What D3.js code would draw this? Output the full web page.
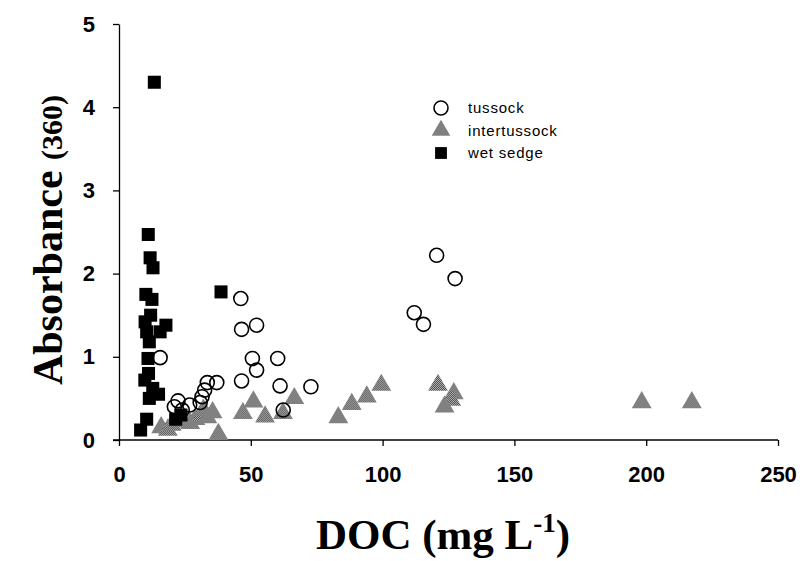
<!DOCTYPE html>
<html>
<head>
<meta charset="utf-8">
<script src="https://cdn.jsdelivr.net/npm/d3@7"></script>
<style>
  body { margin: 0; background: #fff; }
  svg { display: block; }
</style>
</head>
<body>
<div id="chart"></div>
<script>
// DOC (mg/L) vs Absorbance (360)
const tussockDOC = [15.6, 46.2, 46.5, 52.2, 50.6, 60.2, 52.2, 46.5, 61.1, 72.8, 62.3, 33.5, 37.1, 32.5, 31.5, 30.8, 26.8, 22.4, 21.0, 24.0, 120.5, 127.5, 112.0, 115.5];
const tussockAbs = [0.99, 1.70, 1.33, 1.38, 0.98, 0.98, 0.84, 0.71, 0.65, 0.64, 0.36, 0.69, 0.69, 0.60, 0.52, 0.45, 0.42, 0.47, 0.40, 0.36, 2.22, 1.94, 1.53, 1.39];

const interDOC = [16.0, 18.5, 20.0, 23.5, 27.0, 29.0, 31.5, 32.0, 33.5, 35.5, 37.7, 47.0, 51.0, 55.4, 62.2, 66.5, 83.2, 88.3, 94.0, 99.5, 121.0, 127.0, 126.0, 123.5, 198.3, 217.3];
const interAbs = [0.15, 0.12, 0.18, 0.22, 0.20, 0.25, 0.30, 0.36, 0.27, 0.33, 0.07, 0.32, 0.46, 0.28, 0.32, 0.50, 0.27, 0.43, 0.52, 0.66, 0.66, 0.56, 0.48, 0.40, 0.45, 0.45];

const sedgeDOC = [13.4, 11.1, 11.8, 12.9, 10.2, 12.5, 38.7, 17.8, 15.6, 9.9, 10.5, 12.0, 11.5, 11.0, 9.8, 11.2, 12.8, 15.0, 11.5, 10.5, 8.2, 23.5, 21.5];
const sedgeAbs = [4.30, 2.47, 2.19, 2.07, 1.75, 1.69, 1.78, 1.38, 1.30, 1.42, 1.30, 1.50, 1.18, 0.98, 0.72, 0.80, 0.62, 0.55, 0.50, 0.25, 0.12, 0.30, 0.25];

const xTicks = [0, 50, 100, 150, 200, 250];
const yTicks = [0, 1, 2, 3, 4, 5];
const legendLabels = ["tussock", "intertussock", "wet sedge"];

const width = 803, height = 561;
const margin = {top: 24, right: 25, bottom: 121, left: 119};

const svg = d3.select("#chart").append("svg")
    .attr("width", width)
    .attr("height", height);

// dithered grey like the scanned original
const pat = svg.append("defs").append("pattern")
    .attr("id", "dither")
    .attr("patternUnits", "userSpaceOnUse")
    .attr("width", 2)
    .attr("height", 2);
pat.append("rect").attr("width", 2).attr("height", 2).attr("fill", "#bdbdbd");
pat.append("rect").attr("width", 1).attr("height", 1).attr("fill", "#444");
pat.append("rect").attr("x", 1).attr("y", 1).attr("width", 1).attr("height", 1).attr("fill", "#444");

const x = d3.scaleLinear().domain([0, 250]).range([margin.left, width - margin.right]);
const y = d3.scaleLinear().domain([0, 5]).range([height - margin.bottom, margin.top]);

const tickFont = "'Liberation Sans', Arial, sans-serif";
const titleFont = "'Liberation Serif', 'Times New Roman', serif";

// axes
svg.append("g")
    .attr("transform", `translate(0,${y(0)})`)
    .call(d3.axisBottom(x).tickValues(xTicks).tickFormat(d3.format("d")).tickSize(6).tickSizeOuter(0).tickPadding(20))
    .call(g => g.select(".domain").attr("d", `M${x(0) - 6},0H${x(250)}`).attr("stroke-width", 1.3))
    .call(g => g.selectAll(".tick line").attr("stroke-width", 1.3))
    .call(g => g.selectAll(".tick text")
      .attr("font-family", tickFont)
      .attr("font-weight", "bold")
      .attr("font-size", 22)
      .attr("fill", "#000"));

svg.append("g")
    .attr("transform", `translate(${x(0)},0)`)
    .call(d3.axisLeft(y).tickValues(yTicks).tickFormat(d3.format("d")).tickSize(6).tickSizeOuter(0).tickPadding(18))
    .call(g => g.select(".domain").attr("stroke-width", 1.3))
    .call(g => g.selectAll(".tick line").attr("stroke-width", 1.3))
    .call(g => g.selectAll(".tick text")
      .attr("font-family", tickFont)
      .attr("font-weight", "bold")
      .attr("font-size", 22)
      .attr("fill", "#000"));

// axis titles
const xt = svg.append("text")
    .attr("x", 443)
    .attr("y", 549)
    .attr("text-anchor", "middle")
    .attr("font-family", titleFont)
    .attr("font-weight", "bold")
    .attr("font-size", 43);
xt.append("tspan").text("DOC (mg L");
xt.append("tspan").attr("font-size", 27).attr("dy", -17).text("-1");
xt.append("tspan").attr("dy", 17).text(")");

const yt = svg.append("text")
    .attr("transform", `translate(62,240) rotate(-90)`)
    .attr("text-anchor", "middle")
    .attr("font-family", titleFont)
    .attr("font-weight", "bold")
    .attr("font-size", 42);
yt.append("tspan").text("Absorbance ");
yt.append("tspan").attr("font-size", 30).text("(360)");

// marks
const sym = (type, size) => d3.symbol().type(type).size(size)();

svg.append("g")
  .selectAll("path")
  .data(d3.range(interDOC.length))
  .join("path")
    .attr("transform", i => `translate(${x(interDOC[i])},${y(interAbs[i])})`)
    .attr("d", sym(d3.symbolTriangle, 170))
    .attr("fill", "url(#dither)");

svg.append("g")
  .selectAll("path")
  .data(d3.range(sedgeDOC.length))
  .join("path")
    .attr("transform", i => `translate(${x(sedgeDOC[i])},${y(sedgeAbs[i])})`)
    .attr("d", sym(d3.symbolSquare, 170))
    .attr("fill", "#000");

svg.append("g")
  .selectAll("circle")
  .data(d3.range(tussockDOC.length))
  .join("circle")
    .attr("cx", i => x(tussockDOC[i]))
    .attr("cy", i => y(tussockAbs[i]))
    .attr("r", 7)
    .attr("fill", "none")
    .attr("stroke", "#000")
    .attr("stroke-width", 1.6);

// legend
const legend = svg.append("g").attr("transform", "translate(441,108)");
const rows = legend.selectAll("g")
  .data(legendLabels)
  .join("g")
    .attr("transform", (d, i) => `translate(0,${i * 22.5})`);

rows.filter((d, i) => i === 0).append("circle")
    .attr("r", 7).attr("fill", "none").attr("stroke", "#000").attr("stroke-width", 1.6);
rows.filter((d, i) => i === 1).append("path")
    .attr("d", sym(d3.symbolTriangle, 150)).attr("fill", "url(#dither)");
rows.filter((d, i) => i === 2).append("path")
    .attr("d", sym(d3.symbolSquare, 140)).attr("fill", "#000");

rows.append("text")
    .attr("x", 27)
    .attr("dy", "0.35em")
    .attr("font-family", tickFont)
    .attr("font-size", 15)
    .attr("letter-spacing", 0.8)
    .text(d => d);
</script>
</body>
</html>
